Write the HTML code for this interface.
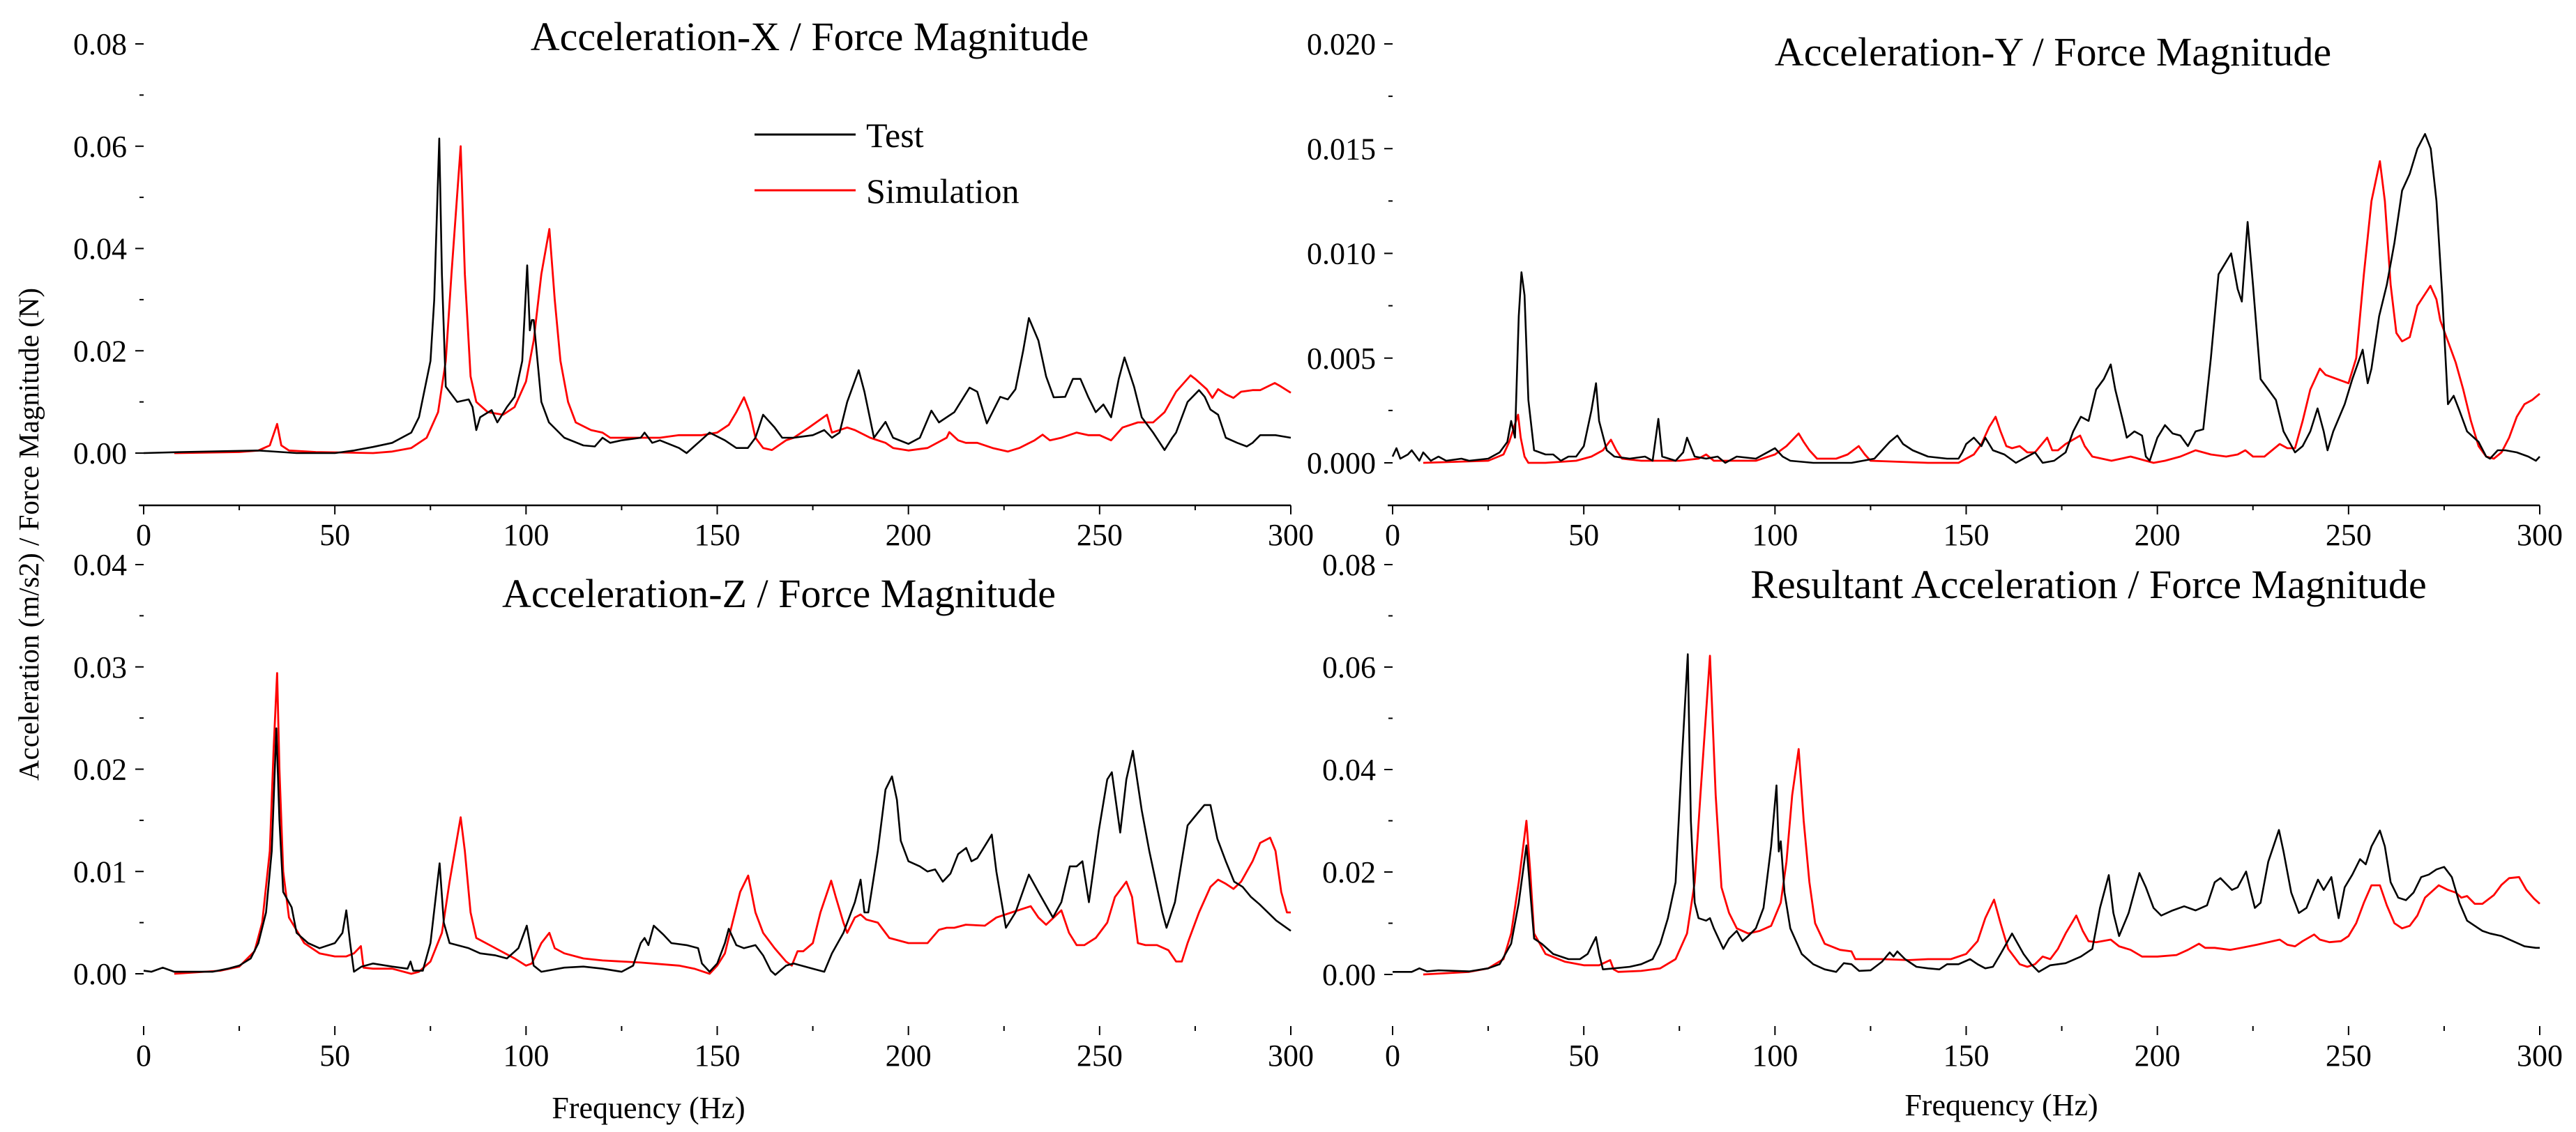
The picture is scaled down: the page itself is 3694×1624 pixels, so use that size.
<!DOCTYPE html>
<html><head><meta charset="utf-8"><title>Acceleration / Force Magnitude</title>
<style>
html,body{margin:0;padding:0;background:#fff;}
svg{display:block;}
text{font-family:"Liberation Serif","Times New Roman",serif;fill:#000;}
</style></head>
<body>
<svg id="chart" width="3694" height="1624" viewBox="0 0 3694 1624" xmlns="http://www.w3.org/2000/svg">
<rect width="3694" height="1624" fill="#fff"/>
<text transform="translate(55,1120) rotate(-90)" font-size="41">Acceleration (m/s2) / Force Magnitude (N)</text>
<g>
<line x1="1082" y1="193" x2="1227" y2="193" stroke="#000" stroke-width="3"/>
<text x="1242" y="211" font-size="50">Test</text>
<line x1="1082" y1="273" x2="1227" y2="273" stroke="#f00" stroke-width="3"/>
<text x="1242" y="291" font-size="50">Simulation</text>
</g>
</svg>
<script>
// ---- data ----
const xTicks = [0, 50, 100, 150, 200, 250, 300];
const xMinorTicks = [25, 75, 125, 175, 225, 275];
const titles = ["Acceleration-X / Force Magnitude", "Acceleration-Y / Force Magnitude", "Acceleration-Z / Force Magnitude", "Resultant Acceleration / Force Magnitude"];
const yTicksX = [0, 0.02, 0.04, 0.06, 0.08];
const yTickLabelsX = ["0.00", "0.02", "0.04", "0.06", "0.08"];
const yTicksY = [0, 0.005, 0.010, 0.015, 0.020];
const yTickLabelsY = ["0.000", "0.005", "0.010", "0.015", "0.020"];
const yTicksZ = [0, 0.01, 0.02, 0.03, 0.04];
const yTickLabelsZ = ["0.00", "0.01", "0.02", "0.03", "0.04"];
const yTicksR = [0, 0.02, 0.04, 0.06, 0.08];
const yTickLabelsR = ["0.00", "0.02", "0.04", "0.06", "0.08"];

const xTestFreq = [0,10,30,40,50,55,60,65,70,72,75,76,77.3,78,79,82,85,86,87,88,91,92.5,95,97,99,100.3,101,101.5,102,103,104,106,110,115,118,120,122,125,130,131,133,135,140,142,145,148,152,155,158,160,162,165,167,170,175,178,180,182,184,187,188.5,191,194,196,200,203,206,208,212,216,218,220.5,224,226,228,230,231.5,234,236,238,241,243,245,247,249,251,253,255,256.5,259,261,264,267,269,270,273,276,277.5,279,281,283,286,288.5,290,292,296,300];
const xTestVal = [0,0.0002,0.0005,0,0,0.0005,0.0012,0.002,0.004,0.007,0.018,0.03,0.0615,0.035,0.013,0.010,0.0105,0.009,0.0045,0.007,0.0084,0.006,0.009,0.011,0.018,0.0367,0.024,0.026,0.026,0.018,0.01,0.006,0.003,0.0015,0.0013,0.003,0.002,0.0025,0.003,0.004,0.002,0.0025,0.001,0,0.002,0.004,0.0025,0.001,0.001,0.003,0.0075,0.005,0.003,0.003,0.0035,0.0045,0.003,0.004,0.01,0.0162,0.012,0.003,0.0061,0.003,0.0018,0.003,0.0083,0.006,0.008,0.0128,0.012,0.0058,0.011,0.0105,0.0125,0.02,0.0264,0.022,0.015,0.0109,0.011,0.0145,0.0145,0.011,0.008,0.0095,0.007,0.0145,0.0187,0.013,0.007,0.004,0.0006,0.003,0.004,0.01,0.0123,0.011,0.0085,0.0075,0.003,0.002,0.0013,0.002,0.0035,0.0035,0.003];
const xSimFreq = [8,25,30,33,34.9,36,38,45,60,65,70,74,77,79,80.5,82.9,84,85.5,87,90,94,97,100,102,104,106.1,107.5,109,111,113,117,120,122,130,135,140,146,150,153,155,157,158.5,160,162,164.3,168,170,174,178.7,180,182,184,186,190,194,196,200,205,210,210.7,213,215,218,222,226,229,233,235.1,237,240,244,247,250,253,256,260,264,267,270,273.8,275,278,279.5,281,283,285,287,290,292,295.8,297,298.5,300];
const xSimVal = [0,0.0002,0.0005,0.0015,0.0057,0.0015,0.0005,0.0002,0,0.0003,0.001,0.003,0.008,0.018,0.035,0.060,0.035,0.015,0.01,0.008,0.0075,0.009,0.014,0.022,0.035,0.0438,0.03,0.018,0.01,0.006,0.0045,0.004,0.003,0.003,0.003,0.0035,0.0035,0.004,0.0055,0.008,0.0109,0.008,0.003,0.001,0.0006,0.0025,0.003,0.005,0.0075,0.004,0.0045,0.005,0.0045,0.003,0.002,0.001,0.0005,0.001,0.003,0.0041,0.0025,0.002,0.002,0.001,0.0003,0.001,0.0025,0.0036,0.0025,0.003,0.004,0.0035,0.0035,0.0025,0.005,0.006,0.006,0.008,0.012,0.0152,0.0145,0.0125,0.0108,0.0125,0.0115,0.0108,0.0120,0.0123,0.0123,0.0137,0.0132,0.0125,0.0118];

const yTestFreq = [0,1,2,4,5,7,8,10,12,14,18,20,25,28,30,31,32,33,33.7,34.5,35.5,37,40,42,44,46,48,50,52,53.2,54,56,58,62,66,68,69.5,70.5,74,76,77,79,82,85,87,90,95,100,102,104,110,120,126,130,132,133.5,136,140,145,148,149,150,152,154,155,157,160,163,166,168,170,173,176,178,180,182,184,186,187.8,189,191,192,194,196,197,198,200,202,204,206,208,210,212,214,216,219.3,221,222.1,223.6,225,227,229,231,233,236,238,240,241.9,243.5,244.5,246,249,251,253.7,255,256,258,260,262,264,266,268,270,271.5,273,274.5,276,277.5,279,281,284,286,287,289,291,294,297,299,300];
const yTestVal = [0.0003,0.0007,0.0002,0.0004,0.0006,0.0001,0.0005,0.0001,0.0003,0.0001,0.0002,0.0001,0.0002,0.0005,0.001,0.002,0.0012,0.007,0.0091,0.008,0.003,0.0006,0.0004,0.0004,0.0001,0.0003,0.0003,0.0008,0.0025,0.0038,0.002,0.0006,0.0003,0.0002,0.0003,0.0001,0.0021,0.0003,0.0001,0.0005,0.0012,0.0003,0.0002,0.0003,0,0.0003,0.0002,0.0007,0.0003,0.0001,0,0,0.0002,0.001,0.0013,0.0009,0.0006,0.0003,0.0002,0.0002,0.0005,0.0009,0.0012,0.0008,0.0012,0.0006,0.0004,0,0.0003,0.0005,0,0.0001,0.0005,0.0015,0.0022,0.002,0.0035,0.004,0.0047,0.0035,0.002,0.0012,0.0015,0.0013,0.0003,0.0001,0.0012,0.0018,0.0014,0.0013,0.0008,0.0015,0.0016,0.005,0.009,0.0100,0.0083,0.0077,0.0115,0.0085,0.004,0.0035,0.003,0.0015,0.0005,0.0008,0.0015,0.0026,0.0015,0.0006,0.0015,0.0028,0.004,0.0054,0.0038,0.0045,0.007,0.0085,0.0105,0.013,0.0138,0.0150,0.0157,0.015,0.0125,0.008,0.0028,0.0032,0.0025,0.0015,0.001,0.0003,0.0002,0.0006,0.0006,0.0005,0.0003,0.0001,0.0003];
const ySimFreq = [8,25,29,30.5,32.8,33.5,34.5,35.5,40,48,52,55,57.1,58.5,60,65,75,80,82,84,90,95,100,103,106.2,107.5,109,111,116,119,121.9,123.5,125,140,148,152,154,156,157.7,159,160.5,162,164,166,168,171.2,172.5,174,176,179.8,181,183,188,193,195,199,202,206,210,214,218,221,223,225,228,232,234,236,238,240,242.5,244,247,250,252,254,256,258.2,259.5,261,262.5,264,266,268,271.4,273,274,276,278,280,282,284,286,288,290,292,294,296,298,300];
const ySimVal = [0,0.0001,0.0004,0.001,0.0023,0.0012,0.0003,0,0,0.0001,0.0003,0.0006,0.0011,0.0006,0.0002,0.0001,0.0001,0.0002,0.0004,0.0001,0.0001,0.0001,0.0004,0.0008,0.0014,0.001,0.0006,0.0002,0.0002,0.0004,0.0008,0.0004,0.0001,0,0,0.0004,0.0009,0.0017,0.0022,0.0015,0.0008,0.0007,0.0008,0.0005,0.0005,0.0012,0.0006,0.0006,0.0009,0.0013,0.0008,0.0003,0.0001,0.0003,0.0002,0,0.0001,0.0003,0.0006,0.0004,0.0003,0.0004,0.0006,0.0003,0.0003,0.0009,0.0007,0.0007,0.002,0.0035,0.0045,0.0042,0.004,0.0038,0.005,0.009,0.0125,0.0144,0.0125,0.0085,0.0062,0.0058,0.006,0.0075,0.00845,0.0078,0.0068,0.0058,0.0048,0.0035,0.002,0.0008,0.0003,0.0002,0.0005,0.0012,0.0022,0.0028,0.003,0.0033];

const zTestFreq = [0,2,5,8,12,18,22,25,28,30,32,33.5,34.7,35.5,36.5,38.7,40,43,46,50,52,53,54,55,57,60,65,69,69.8,70.5,73,75,77.4,78.5,80,85,88,92,95,98,100.2,101,102,104,110,115,120,125,128,130,131,132,133.4,136,138,142,145,146,148,150,152,153,155,157,160,162,164,165.2,168,170,172,175,178,180,183,186,187.5,188.5,189.5,192,194,195.7,197,198,200,203,205,207,209,211,213,215.1,216.5,218,220,221.8,223,225.5,228,231.5,234,237.8,240,242.2,244,245.5,247.2,249.8,252,253.2,255.4,257,258.7,261,263,266.4,267.5,269.7,273,275.2,277.4,279,280.8,283,285.2,287.4,289.6,291.8,296.2,300];
const zTestVal = [0.0003,0.0002,0.0006,0.0002,0.0002,0.0002,0.0005,0.0008,0.0015,0.003,0.006,0.012,0.024,0.015,0.008,0.0065,0.004,0.003,0.0025,0.003,0.004,0.0062,0.003,0.0002,0.0007,0.001,0.0007,0.0005,0.0012,0.0003,0.0003,0.003,0.0108,0.005,0.003,0.0025,0.002,0.0018,0.0015,0.0025,0.0047,0.003,0.0008,0.0002,0.0006,0.0007,0.0005,0.0002,0.0008,0.003,0.0035,0.0028,0.0047,0.0038,0.003,0.0028,0.0025,0.001,0.0002,0.001,0.003,0.0044,0.0028,0.0025,0.0028,0.0018,0.0003,-0.0001,0.0008,0.001,0.0008,0.0005,0.0002,0.002,0.004,0.007,0.0092,0.006,0.006,0.012,0.018,0.0193,0.017,0.013,0.011,0.0105,0.010,0.0102,0.009,0.0098,0.0117,0.0123,0.011,0.0113,0.0125,0.0136,0.010,0.0045,0.006,0.0097,0.008,0.0055,0.007,0.0105,0.0105,0.011,0.007,0.014,0.019,0.0197,0.0138,0.019,0.0218,0.016,0.012,0.006,0.0045,0.007,0.0145,0.0155,0.0165,0.0165,0.0132,0.011,0.009,0.0085,0.0075,0.0068,0.0052,0.0042];
const zSimFreq = [8,20,25,29,31,33,34,34.9,35.5,36.5,38,42,46,50,53,55,56.8,57.5,60,65,70,72,75,78,80,82.9,84,85.5,87,92,97,100,101.5,104,106.1,107.5,110,115,120,130,140,144,148,150,152,154,156,158.1,160,162,165,168,169.5,171,172.5,175,177,179.8,181,183,184,186,187.5,189,192,195,200,205,208,210,212,215,220,223,227,232,234,236,238,240,242,244,246,249,252,254,257,258.5,260,262,265,268,270,271.5,273,276,279,281,283,285,287,290,292,294.6,296,297.5,299,300];
const zSimVal = [0,0.0003,0.0007,0.0022,0.005,0.012,0.022,0.0294,0.02,0.01,0.0055,0.003,0.002,0.0017,0.0017,0.002,0.0027,0.0006,0.0005,0.0005,0,0.0002,0.0012,0.004,0.009,0.0153,0.012,0.006,0.0035,0.0025,0.0015,0.0008,0.001,0.003,0.0040,0.0025,0.002,0.0015,0.0013,0.0011,0.0008,0.0005,0,0.0008,0.002,0.005,0.008,0.0096,0.006,0.004,0.0025,0.0012,0.0008,0.0022,0.0022,0.003,0.006,0.0091,0.0075,0.005,0.004,0.0055,0.0058,0.0053,0.005,0.0035,0.003,0.003,0.0043,0.0045,0.0045,0.0048,0.0047,0.0055,0.006,0.0066,0.0055,0.0048,0.0055,0.0062,0.004,0.0028,0.0028,0.0035,0.005,0.0075,0.009,0.0075,0.003,0.0028,0.0028,0.0023,0.0012,0.0012,0.003,0.006,0.0085,0.0092,0.0088,0.0083,0.009,0.011,0.0128,0.0133,0.012,0.008,0.006,0.006];

const rTestFreq = [0,5,7,9,12,20,25,28,31,33,35,35.8,37,39,42,46,49,51,53.2,54,55,58,62,65,68,70,72,74,75.5,77.2,78,79,80,82,83,84,86.5,88,90,91.5,93,95,97,99,100.4,101,101.5,102.5,104,107,110,113,116,118,120,122,125,128,130,131,132,134,137,140,143,145,148,151,153,155,157,159,162,163.5,165,167,169,172,176,180,183,185,187.3,188.5,190,192.5,195.3,197,199,201,204,207,210,213,215,216.5,219.5,221,223.2,224.5,225.5,227,229,231.8,233,235,237,239,242,243.5,245.5,247.4,249,251,253,254.5,256,258.2,259.5,261,263,265,267,269,271,273,275,277,279,281,283,285,287,290,293,296,299,300];
const rTestVal = [0.0005,0.0005,0.0012,0.0006,0.0008,0.0006,0.0012,0.002,0.006,0.014,0.0252,0.018,0.007,0.006,0.004,0.003,0.003,0.004,0.0073,0.004,0.001,0.0012,0.0015,0.002,0.003,0.006,0.011,0.018,0.04,0.0625,0.03,0.014,0.011,0.0105,0.011,0.009,0.005,0.007,0.0085,0.0065,0.0075,0.009,0.013,0.025,0.0369,0.024,0.026,0.016,0.009,0.004,0.002,0.001,0.0005,0.0022,0.002,0.0007,0.0008,0.0025,0.0043,0.0035,0.0045,0.003,0.0015,0.0012,0.001,0.002,0.002,0.003,0.002,0.0012,0.0015,0.004,0.008,0.006,0.004,0.002,0.0005,0.0018,0.0022,0.0035,0.005,0.013,0.0194,0.012,0.0075,0.012,0.0198,0.017,0.013,0.0115,0.0125,0.0133,0.0125,0.0135,0.018,0.0188,0.0165,0.017,0.0201,0.016,0.013,0.014,0.022,0.0282,0.024,0.016,0.012,0.013,0.0185,0.0165,0.019,0.011,0.017,0.0195,0.0225,0.0215,0.025,0.0281,0.025,0.018,0.015,0.0145,0.016,0.019,0.0195,0.0205,0.021,0.019,0.014,0.0105,0.0095,0.0085,0.008,0.0075,0.0065,0.0055,0.0052,0.0052];
const rSimFreq = [8,20,25,29,31,33,35,36,37,40,45,50,54,56.9,57.8,59,65,70,74,77,79,80.5,83,84.5,86,88,90,93,96,99,101.5,103,104.5,106.2,107.5,109,110.5,113,117,120,121,128,135,140,146,150,153,155,157.3,159,161,164,166,168,170,172,174,176,178.8,180.5,182,184,187.8,190,193,196,200,205,208,210.9,212.5,215,219,222,226,232,234,236,238,241,242.5,245,248,250,252,254,256,258.2,260,262,264,266,268,270,273.6,276,278,279.5,281,283,285,288,290,292,294.6,296.5,298.5,300];
const rSimVal = [0,0.0005,0.0012,0.003,0.008,0.018,0.030,0.02,0.008,0.004,0.0025,0.0018,0.0018,0.0028,0.001,0.0005,0.0007,0.0012,0.003,0.008,0.018,0.035,0.0622,0.035,0.017,0.012,0.009,0.008,0.0085,0.0095,0.014,0.022,0.035,0.044,0.03,0.018,0.01,0.006,0.0048,0.0045,0.003,0.003,0.0028,0.003,0.003,0.004,0.0065,0.011,0.0146,0.01,0.005,0.002,0.0015,0.002,0.0035,0.003,0.005,0.008,0.0115,0.0085,0.0065,0.0063,0.0068,0.0055,0.0048,0.0035,0.0035,0.0038,0.0048,0.006,0.0052,0.0052,0.0048,0.0052,0.0058,0.0068,0.0058,0.0055,0.0065,0.0078,0.0068,0.0063,0.0065,0.0075,0.010,0.014,0.0174,0.0174,0.0135,0.010,0.009,0.0095,0.0115,0.015,0.0174,0.0165,0.016,0.015,0.0153,0.0138,0.0138,0.0155,0.0175,0.0188,0.019,0.0165,0.0148,0.0138];

// ---- layout ----
const svg = document.getElementById('chart');
const NS = 'http://www.w3.org/2000/svg';
function mk(tag, attrs, parent) {
  const e = document.createElementNS(NS, tag);
  for (const k in attrs) e.setAttribute(k, attrs[k]);
  (parent || svg).appendChild(e);
  return e;
}

const panels = [
  {key:'x', title:titles[0], tx:1161, ty:72, x0:206, x1:1851, yZero:650, yTopPx:63, yMax:0.08, ticks:yTicksX, labels:yTickLabelsX, axisLine:true, tickY:725, labY:782, freqLabel:null, tf:xTestFreq, tv:xTestVal, sf:xSimFreq, sv:xSimVal},
  {key:'y', title:titles[1], tx:2944, ty:94, x0:1997, x1:3642, yZero:664, yTopPx:63, yMax:0.02, ticks:yTicksY, labels:yTickLabelsY, axisLine:true, tickY:725, labY:782, freqLabel:null, tf:yTestFreq, tv:yTestVal, sf:ySimFreq, sv:ySimVal},
  {key:'z', title:titles[2], tx:1117, ty:871, x0:206, x1:1851, yZero:1397, yTopPx:810, yMax:0.04, ticks:yTicksZ, labels:yTickLabelsZ, axisLine:false, tickY:1472, labY:1529, freqLabel:[930,1604], tf:zTestFreq, tv:zTestVal, sf:zSimFreq, sv:zSimVal},
  {key:'r', title:titles[3], tx:2995, ty:858, x0:1997, x1:3642, yZero:1398, yTopPx:810, yMax:0.08, ticks:yTicksR, labels:yTickLabelsR, axisLine:false, tickY:1472, labY:1529, freqLabel:[2870,1600], tf:rTestFreq, tv:rTestVal, sf:rSimFreq, sv:rSimVal}
];

panels.forEach(p => {
  const g = mk('g', {});
  
  
  const xs = f => p.x0 + (p.x1 - p.x0) * f / 300;
  const ys = v => p.yZero - (p.yZero - p.yTopPx) * v / p.yMax;

  const t = mk('text', {x:p.tx, y:p.ty, 'font-size':58, 'text-anchor':'middle'}, g);
  t.textContent = p.title;
  
  

  if (p.axisLine) {
    const al = mk('line', {x1:p.x0 - 7, x2:p.x1, y1:p.tickY, y2:p.tickY, stroke:'#000', 'stroke-width':2.5}, g);
    
    
  }
  xTicks.forEach(f => {
    const tk = mk('line', {x1:xs(f), x2:xs(f), y1:p.tickY, y2:p.tickY + 13, stroke:'#000', 'stroke-width':2}, g);
    
    
    const lb = mk('text', {x:xs(f), y:p.labY, 'font-size':44, 'text-anchor':'middle'}, g);
    lb.textContent = String(f);
    
    
  });
  xMinorTicks.forEach(f => {
    const tk = mk('line', {x1:xs(f), x2:xs(f), y1:p.tickY, y2:p.tickY + 7, stroke:'#000', 'stroke-width':2}, g);
    
    
  });
  p.ticks.forEach((v, i) => {
    const yy = ys(v);
    const tk = mk('line', {x1:p.x0 - 12, x2:p.x0, y1:yy, y2:yy, stroke:'#000', 'stroke-width':2}, g);
    
    
    const lb = mk('text', {x:p.x0 - 24, y:yy + 15, 'font-size':44, 'text-anchor':'end'}, g);
    lb.textContent = p.labels[i];
    
    
    if (i < p.ticks.length - 1) {
      const mv = (v + p.ticks[i + 1]) / 2;
      const mt = mk('line', {x1:p.x0 - 6, x2:p.x0, y1:ys(mv), y2:ys(mv), stroke:'#000', 'stroke-width':2}, g);
      
      
    }
  });
  if (p.freqLabel) {
    const fl = mk('text', {x:p.freqLabel[0], y:p.freqLabel[1], 'font-size':44, 'text-anchor':'middle'}, g);
    fl.textContent = 'Frequency (Hz)';
    
    
  }
  const path = (fr, vals) => fr.map((f, i) => (i ? 'L' : 'M') + xs(f).toFixed(1) + ' ' + ys(vals[i]).toFixed(1)).join(' ');
  const sim = mk('path', {d:path(p.sf, p.sv), fill:'none', stroke:'#f00', 'stroke-width':2.8, 'stroke-linejoin':'round'}, g);
  
  
  const test = mk('path', {d:path(p.tf, p.tv), fill:'none', stroke:'#000', 'stroke-width':2.6, 'stroke-linejoin':'round'}, g);
  
  
});
</script>
</body></html>
